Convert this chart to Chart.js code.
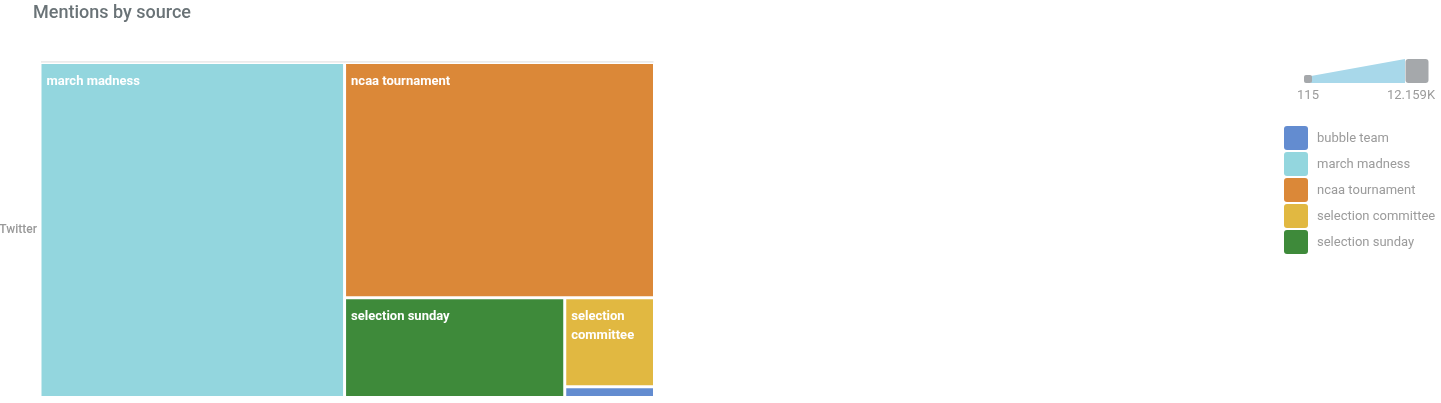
<!DOCTYPE html>
<html><head><meta charset="utf-8">
<script src="https://cdn.jsdelivr.net/npm/chart.js@4/dist/chart.umd.min.js"></script>
<style>html,body{margin:0;padding:0;background:#fff;overflow:hidden}#wrap{position:relative;width:1441px;height:403px}</style>
</head><body><div id="wrap"><canvas id="c" width="1441" height="403"></canvas></div>
<script>
const TITLE = 'Mentions by source';
const SOURCES = ['Twitter'];
const CATEGORIES = ['bubble team', 'march madness', 'ncaa tournament', 'selection committee', 'selection sunday'];
const MENTIONS = [115, 12159, 8685, 953, 2620];
const COLORS = ['#638cd0', '#93d6de', '#db8838', '#e1b841', '#3e8a3a'];

Chart.defaults.font.family = 'Roboto';

function worst(row, sum, side) {
  const s2 = side * side, sum2 = sum * sum;
  let m = 0;
  for (const r of row) m = Math.max(m, (s2 * r.area) / sum2, sum2 / (s2 * r.area));
  return m;
}
// squarified layout; returns fractional rectangles indexed like values
function squarify(values, W, H) {
  const total = values.reduce((a, b) => a + b, 0);
  const items = values.map((v, i) => ({ i, area: v / total * W * H })).sort((a, b) => b.area - a.area);
  const out = [];
  let x = 0, y = 0, w = W, h = H, rest = items;
  while (rest.length) {
    const side = Math.min(w, h);
    let row = [rest[0]], sum = rest[0].area, best = worst(row, sum, side), k = 1;
    while (k < rest.length) {
      const cand = row.concat([rest[k]]), s = sum + rest[k].area, wv = worst(cand, s, side);
      if (wv <= best) { row = cand; sum = s; best = wv; k++; } else break;
    }
    rest = rest.slice(row.length);
    const thick = sum / side;
    if (w >= h) {
      let cy = y;
      for (const it of row) { const ih = it.area / thick; out[it.i] = { x0: x / W, x1: (x + thick) / W, y0: cy / H, y1: (cy + ih) / H }; cy += ih; }
      x += thick; w -= thick;
    } else {
      let cx = x;
      for (const it of row) { const iw = it.area / thick; out[it.i] = { x0: cx / W, x1: (cx + iw) / W, y0: y / H, y1: (y + thick) / H }; cx += iw; }
      y += thick; h -= thick;
    }
  }
  return out;
}

function wrapText(ctx, text, maxW) {
  const words = text.split(' ');
  const lines = [];
  let cur = '';
  for (const wd of words) {
    const t = cur ? cur + ' ' + wd : wd;
    if (cur && ctx.measureText(t).width > maxW) { lines.push(cur); cur = wd; } else cur = t;
  }
  if (cur) lines.push(cur);
  return lines;
}

class TreemapController extends Chart.DatasetController {
  static id = 'treemap';
  static defaults = { datasetElementType: false, dataElementType: 'bar' };
  update(mode) {
    const meta = this._cachedMeta;
    this.updateElements(meta.data, 0, meta.data.length, mode);
  }
  updateElements(elements, start, count, mode) {
    const meta = this._cachedMeta;
    const xs = meta.xScale, ys = meta.yScale;
    const ds = this.getDataset();
    const W = Math.abs(xs.getPixelForValue(1) - xs.getPixelForValue(0));
    const H = Math.abs(ys.getPixelForValue(1) - ys.getPixelForValue(0));
    if (!(W > 0 && H > 0)) return;
    const rects = squarify(ds.data, W, H);
    for (let i = start; i < start + count; i++) {
      const r = rects[i];
      const left = xs.getPixelForValue(r.x0), right = xs.getPixelForValue(r.x1);
      const top = ys.getPixelForValue(r.y0), bottom = ys.getPixelForValue(r.y1);
      const bg = Array.isArray(ds.backgroundColor) ? ds.backgroundColor[i] : ds.backgroundColor;
      Object.assign(elements[i], {
        x: (left + right) / 2, y: top, base: bottom, width: right - left, horizontal: false,
        inflateAmount: 0, enableBorderRadius: true,
        borderSkipped: { top: false, bottom: false, left: false, right: false },
        options: { backgroundColor: bg, borderColor: ds.borderColor, borderWidth: ds.borderWidth, borderRadius: 0, inflateAmount: 0 }
      });
    }
  }
  draw() {
    super.draw();
    const meta = this._cachedMeta;
    const ctx = this.chart.ctx;
    const labels = this.chart.data.labels;
    ctx.save();
    ctx.font = '700 13px Roboto';
    ctx.fillStyle = '#ffffff';
    ctx.textAlign = 'left';
    ctx.textBaseline = 'alphabetic';
    meta.data.forEach((el, i) => {
      if (!el.options) return;
      const bw = el.options.borderWidth;
      const left = el.x - el.width / 2 + bw;
      const top = Math.min(el.y, el.base) + bw;
      const w = el.width - 2 * bw, h = Math.abs(el.base - el.y) - 2 * bw;
      if (h < 28 || w < 30) return;
      const lines = wrapText(ctx, labels[i], w - 11);
      lines.forEach((ln, k) => {
        const by = top + 21 + k * 19;
        if (by + 4 > top + h) return;
        ctx.fillText(ln, left + 5, by);
      });
    });
    ctx.restore();
  }
}
Chart.register(TreemapController);

function fmt(v) {
  if (v >= 1000) return (v / 1000).toFixed(3).replace(/\.?0+$/, '') + 'K';
  return String(v);
}
function rr(ctx, x, y, w, h, r) {
  ctx.beginPath();
  ctx.moveTo(x + r, y); ctx.lineTo(x + w - r, y); ctx.quadraticCurveTo(x + w, y, x + w, y + r);
  ctx.lineTo(x + w, y + h - r); ctx.quadraticCurveTo(x + w, y + h, x + w - r, y + h);
  ctx.lineTo(x + r, y + h); ctx.quadraticCurveTo(x, y + h, x, y + h - r);
  ctx.lineTo(x, y + r); ctx.quadraticCurveTo(x, y, x + r, y); ctx.closePath();
}

const decorations = {
  id: 'decorations',
  beforeDatasetsDraw(chart) {
    const a = chart.chartArea, ctx = chart.ctx;
    ctx.save();
    ctx.fillStyle = '#d8d8d8';
    ctx.fillRect(a.left + 1, Math.floor(a.top) - 0.5, a.right - a.left - 2, 1);
    ctx.restore();
  },
  afterDraw(chart) {
    const ctx = chart.ctx;
    ctx.save();
    // title
    ctx.font = '500 18px Roboto';
    ctx.fillStyle = '#6a7377';
    ctx.textAlign = 'left';
    ctx.textBaseline = 'alphabetic';
    ctx.fillText(TITLE, 33, 18);
    // size legend
    const vals = chart.data.datasets[0].data;
    const mn = Math.min(...vals), mx = Math.max(...vals);
    ctx.fillStyle = '#a8d8ea';
    ctx.beginPath();
    ctx.moveTo(1311, 83); ctx.lineTo(1311, 76); ctx.lineTo(1405, 59); ctx.lineTo(1405, 83); ctx.closePath(); ctx.fill();
    ctx.fillStyle = '#a5a8ab';
    rr(ctx, 1304, 75, 8, 8, 2); ctx.fill();
    rr(ctx, 1405.5, 59, 23, 24, 3); ctx.fill();
    ctx.font = '13px Roboto';
    ctx.fillStyle = '#9b9b9b';
    ctx.textAlign = 'center';
    ctx.textBaseline = 'middle';
    ctx.fillText(fmt(mn), 1308, 96);
    ctx.fillText(fmt(mx), 1411, 96);
    // colour legend
    ctx.textAlign = 'left';
    const cols = chart.data.datasets[0].backgroundColor;
    chart.data.labels.forEach((lab, i) => {
      const y = 126 + i * 26;
      ctx.fillStyle = cols[i];
      rr(ctx, 1284, y, 24, 24, 3); ctx.fill();
      ctx.fillStyle = '#9b9b9b';
      ctx.fillText(lab, 1317, y + 12.5);
    });
    ctx.restore();
  }
};

new Chart(document.getElementById('c'), {
  type: 'treemap',
  data: {
    labels: CATEGORIES,
    datasets: [{
      label: 'Mentions',
      data: MENTIONS,
      backgroundColor: COLORS,
      borderColor: '#ffffff',
      borderWidth: 1.5,
      xAxisID: 'x',
      yAxisID: 'yv'
    }]
  },
  options: {
    responsive: false,
    animation: false,
    events: [],
    layout: { autoPadding: false, padding: { top: 62.5, bottom: 5.5, left: 0, right: 786.5 } },
    plugins: { legend: { display: false }, tooltip: { enabled: false }, title: { display: false } },
    scales: {
      x: { type: 'linear', min: 0, max: 1, display: false },
      yv: { type: 'linear', axis: 'y', min: 0, max: 1, reverse: true, display: false },
      y: {
        type: 'category', labels: SOURCES, offset: true, position: 'left',
        grid: { display: false, drawTicks: false }, border: { display: false },
        ticks: { padding: 3, color: '#999999', font: { size: 12, weight: '500' } },
        afterFit(s) { s.width = 40; s.paddingTop = 0; s.paddingBottom = 0; s.paddingLeft = 0; s.paddingRight = 0; }
      }
    }
  },
  plugins: [decorations]
});
</script>
</body></html>
